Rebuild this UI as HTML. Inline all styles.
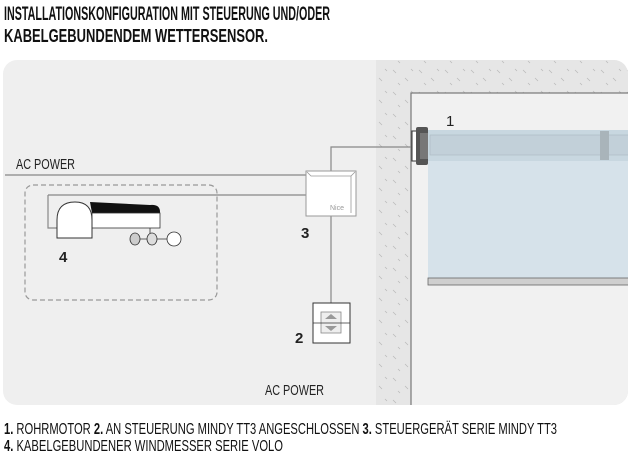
<!DOCTYPE html>
<html><head><meta charset="utf-8"><style>
html,body{margin:0;padding:0;background:#fff;width:635px;height:458px;overflow:hidden}
text{font-family:"Liberation Sans Narrow","Liberation Sans",sans-serif}
</style></head><body>
<svg width="635" height="458" viewBox="0 0 635 458" xmlns="http://www.w3.org/2000/svg">
<defs>
<pattern id="tex" width="26" height="22" patternUnits="userSpaceOnUse">
<path d="M3 4l3 3M15 12l3 3M8 17l2 2M21 3l2 2" stroke="#bbb" stroke-width="0.8"/>
</pattern>
<clipPath id="pc"><rect x="3" y="60" width="625" height="345" rx="14"/></clipPath>
</defs>
<text x="4" y="20" font-size="19" font-weight="bold" textLength="326" lengthAdjust="spacingAndGlyphs" fill="#111">INSTALLATIONSKONFIGURATION MIT STEUERUNG UND/ODER</text>
<text x="4" y="42" font-size="18" font-weight="bold" textLength="264" lengthAdjust="spacingAndGlyphs" fill="#111">KABELGEBUNDENDEM WETTERSENSOR.</text>
<g clip-path="url(#pc)">
<rect x="3" y="60" width="625" height="345" fill="#efefef"/>
<rect x="376" y="60" width="260" height="345" fill="#e6e6e6"/>
<rect x="376" y="60" width="260" height="345" fill="url(#tex)"/>
<rect x="411" y="93" width="230" height="320" fill="#f1f1f1" stroke="#777" stroke-width="1.2"/>
<rect x="428" y="160" width="210" height="118" fill="#d6e2ea"/>
<rect x="428" y="278" width="210" height="7" fill="#cfcfcf" stroke="#666" stroke-width="0.8"/>
<rect x="428" y="130" width="210" height="31" fill="#c8d7e0"/>
<rect x="430" y="135" width="200" height="20" fill="#c2d0d9" stroke="#aab8c0" stroke-width="0.6"/>
<rect x="600" y="131" width="9" height="29" fill="#a9b4ba"/>
<rect x="412" y="131" width="8" height="30" fill="#fff" stroke="#333" stroke-width="1"/>
<rect x="416" y="127" width="12" height="38" fill="#555" rx="2"/>
<rect x="420" y="133" width="8" height="26" fill="#777"/>
</g>
<path d="M5 175H306M331 171V147H411M331 215V303M48 195H306M48 195V228H57" stroke="#888" stroke-width="1.2" fill="none"/>
<rect x="25" y="185" width="192" height="115" rx="8" fill="none" stroke="#999" stroke-width="1.2" stroke-dasharray="5,3"/>
<text x="16" y="169" font-size="15" textLength="59" lengthAdjust="spacingAndGlyphs" fill="#222">AC POWER</text>
<rect x="306" y="171" width="50" height="45" fill="#fff" stroke="#999" stroke-width="1"/>
<path d="M307 172l4 4h40l4-4M351 176v37" stroke="#999" fill="none" stroke-width="0.8"/>
<text x="330" y="210" font-size="7" fill="#999">Nice</text>
<text x="301" y="238" font-size="15" font-weight="bold" fill="#222">3</text>
<path d="M90 202L150 205Q160 204 160 212V213H92Z" fill="#111"/>
<rect x="92" y="213" width="68" height="15" fill="#fff" stroke="#333" stroke-width="0.8"/>
<path d="M57 238V220Q57 202 75 202Q92 202 92 220V238Z" fill="#fff" stroke="#333" stroke-width="1"/>
<line x1="150" y1="228" x2="150" y2="238" stroke="#333" stroke-width="0.8"/>
<ellipse cx="135" cy="239" rx="5" ry="6" fill="#ccc" stroke="#333" stroke-width="0.8"/>
<ellipse cx="152" cy="239" rx="5" ry="6" fill="#ddd" stroke="#333" stroke-width="0.8"/>
<circle cx="174" cy="239" r="7" fill="#fff" stroke="#333" stroke-width="0.8"/>
<path d="M140 239h7M157 239h10" stroke="#333" stroke-width="0.8"/>
<text x="59" y="262" font-size="15" font-weight="bold" fill="#222">4</text>
<rect x="313" y="303" width="37" height="40" fill="#fff" stroke="#333" stroke-width="1"/>
<rect x="321" y="312" width="20" height="21" fill="#eee" stroke="#888" stroke-width="0.8"/>
<path d="M331 314l-6 5h12zM331 331l-6-5h12z" fill="#999"/>
<line x1="313" y1="323" x2="350" y2="323" stroke="#333" stroke-width="0.8"/>
<text x="295" y="343" font-size="15" font-weight="bold" fill="#222">2</text>
<text x="265" y="395" font-size="15" textLength="59" lengthAdjust="spacingAndGlyphs" fill="#222">AC POWER</text>
<text x="446" y="126" font-size="15" fill="#222">1</text>
<text x="4" y="434" font-size="16" textLength="553" lengthAdjust="spacingAndGlyphs" fill="#111"><tspan font-weight="bold">1.</tspan> ROHRMOTOR <tspan font-weight="bold">2.</tspan> AN STEUERUNG MINDY TT3 ANGESCHLOSSEN <tspan font-weight="bold">3.</tspan> STEUERGERÄT SERIE MINDY TT3</text>
<text x="4" y="451" font-size="16" textLength="279" lengthAdjust="spacingAndGlyphs" fill="#111"><tspan font-weight="bold">4.</tspan> KABELGEBUNDENER WINDMESSER SERIE VOLO</text>
</svg>
</body></html>
